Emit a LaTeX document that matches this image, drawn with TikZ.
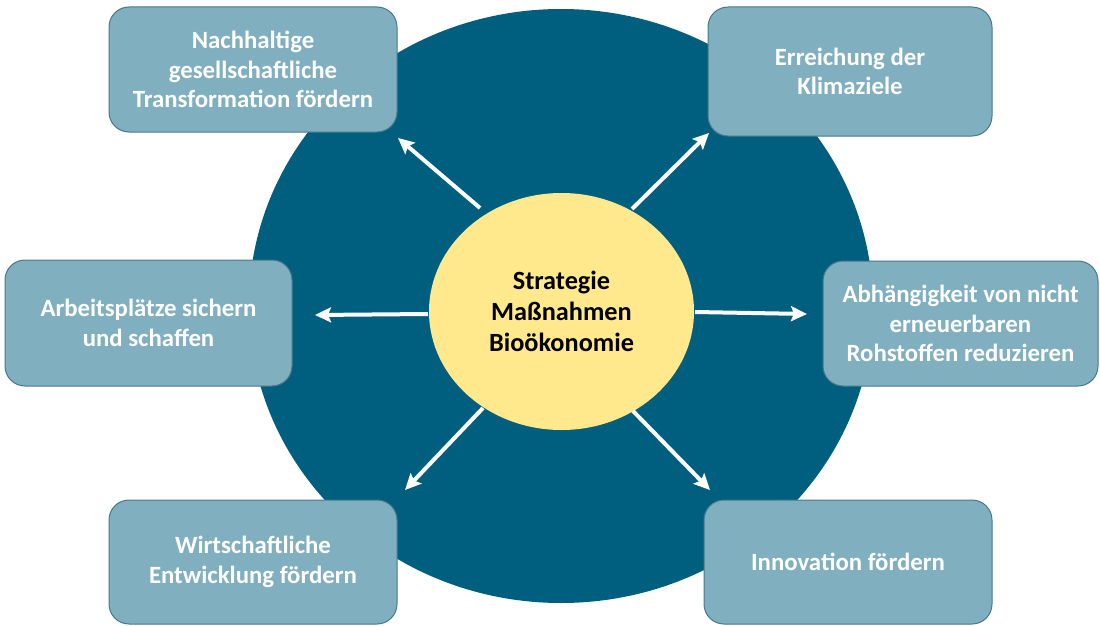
\documentclass[tikz,border=0pt]{standalone}
\usepackage{fontspec}
\setmainfont{Carlito}
\usetikzlibrary{arrows.meta,shapes.geometric}
\definecolor{darkteal}{RGB}{0,95,127}
\definecolor{boxfill}{RGB}{128,175,191}
\definecolor{boxline}{RGB}{70,120,140}
\definecolor{sun}{RGB}{255,233,140}
\tikzset{
  goalbox/.style={draw=boxline, line width=1pt, fill=boxfill, rounded corners=20pt,
    text=white, font=\fontsize{24.8}{29.5}\selectfont\bfseries, align=center},
  whitearrow/.style={draw=white, line width=4pt,
    -{Stealth[length=16pt,width=15pt,inset=3pt]}},
}
\begin{document}
\begin{tikzpicture}[x=1pt,y=-1pt]
\useasboundingbox (0,0) rectangle (1100,626);
\fill[darkteal] (561,306) ellipse [x radius=312, y radius=297];
\node[ellipse, fill=sun, minimum width=265pt, minimum height=237pt, inner sep=0pt,
  font=\fontsize{26.3}{31}\selectfont\bfseries, align=center, draw=none]
  (c) at (561.5,311.5) {Strategie\\Maßnahmen\\Bioökonomie};
% arrow end points
\coordinate (s1) at (480,208); \coordinate (e1) at (398,138);
\coordinate (s2) at (632,209); \coordinate (e2) at (709,133);
\coordinate (s3) at (428,314); \coordinate (e3) at (315,315);
\coordinate (s4) at (695,312); \coordinate (e4) at (807,314);
\coordinate (s5) at (483,408); \coordinate (e5) at (405,490);
\coordinate (s6) at (633,411); \coordinate (e6) at (710,490);
\foreach \i in {1,...,6} {\draw[whitearrow] (s\i) -- (e\i);}
% boxes
\node[goalbox, minimum width=288pt, minimum height=125pt] (tl) at (253,69.5)
  {Nachhaltige\\gesellschaftliche\\Transformation fördern};
\node[goalbox, minimum width=284pt, minimum height=129pt] (tr) at (850,71.5)
  {Erreichung der\\Klimaziele};
\node[goalbox, minimum width=287pt, minimum height=126pt] (ml) at (148.5,323)
  {Arbeitsplätze sichern\\und schaffen};
\node[goalbox, minimum width=275pt, minimum height=125pt, inner xsep=2pt] (mr) at (960.5,323.5)
  {Abhängigkeit von nicht\\erneuerbaren\\Rohstoffen reduzieren};
\node[goalbox, minimum width=288pt, minimum height=124pt] (bl) at (253,562)
  {Wirtschaftliche\\Entwicklung fördern};
\node[goalbox, minimum width=288pt, minimum height=124pt] (br) at (848,562)
  {Innovation fördern};
\end{tikzpicture}
\end{document}
